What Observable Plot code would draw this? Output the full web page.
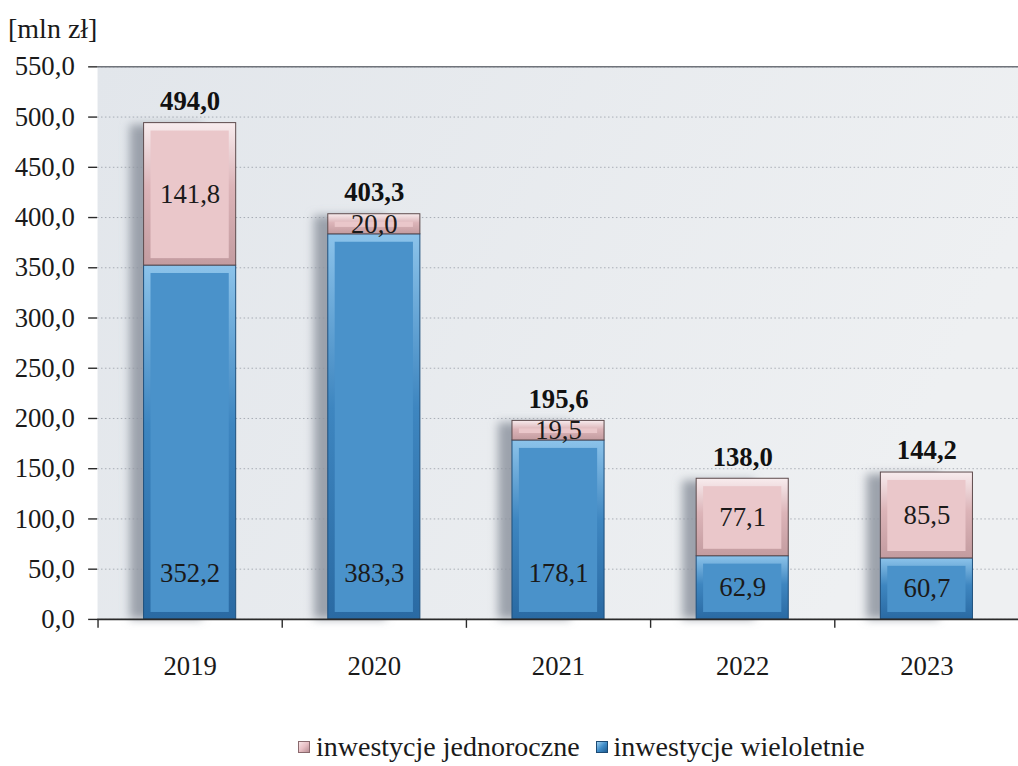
<!DOCTYPE html>
<html><head><meta charset="utf-8">
<script src="https://cdn.jsdelivr.net/npm/d3@7"></script>
<script src="https://cdn.jsdelivr.net/npm/@observablehq/plot@0.6"></script>
<style>
html,body{margin:0;padding:0;background:#fff;overflow:hidden;width:1018px;height:766px}
#wrap{position:relative;width:1018px;height:766px;font-family:"Liberation Serif","Times New Roman",Times,serif;color:#1a1a1a;overflow:hidden}
#unit{position:absolute;left:8px;top:13px;font-size:28px;line-height:32px}
#chart{position:absolute;left:0;top:0}
#legend{position:absolute;left:298px;top:731px;font-size:28px;line-height:32px;display:flex;align-items:center;white-space:nowrap}
.item{display:flex;align-items:center;margin-right:16px}
.sw{display:inline-block;width:12px;height:12px;margin-right:6px;box-sizing:border-box}
.sw.p{background:linear-gradient(135deg,#f7e4e6 0%,#e8bfc4 50%,#b98f95 100%);border:1px solid #8a6a6e}
.sw.b{background:linear-gradient(135deg,#9fd0f0 0%,#3f8cc8 50%,#1f5d92 100%);border:1px solid #1c4a74}
</style></head>
<body>
<div id="wrap">
  <div id="chart"></div>
  <div id="unit">[mln zł]</div>
  <div id="legend">
    <span class="item"><span class="sw p"></span>inwestycje jednoroczne</span>
    <span class="item"><span class="sw b"></span>inwestycje wieloletnie</span>
  </div>
</div>
<script>
// ---- data ----
const years = ["2019", "2020", "2021", "2022", "2023"];
const wieloletnie = [352.2, 383.3, 178.1, 62.9, 60.7];
const jednoroczne = [141.8, 20.0, 19.5, 77.1, 85.5];
const totals = [494.0, 403.3, 195.6, 138.0, 144.2];
const yTicks = [0, 50, 100, 150, 200, 250, 300, 350, 400, 450, 500, 550];

const fmt = d => d.toFixed(1).replace(".", ",");

const segs = [];
years.forEach((y, i) => {
  segs.push({year: y, series: "wieloletnie", y1: 0, y2: wieloletnie[i], v: wieloletnie[i]});
  segs.push({year: y, series: "jednoroczne", y1: wieloletnie[i], y2: wieloletnie[i] + jednoroczne[i], v: jednoroczne[i]});
});
const blue = segs.filter(d => d.series === "wieloletnie");
const pink = segs.filter(d => d.series === "jednoroczne");
const totRows = years.map((y, i) => ({year: y, top: wieloletnie[i] + jednoroczne[i], label: totals[i]}));

const serif = "Liberation Serif, Times New Roman, Times, serif";
const SHADOW = "#8e95a0";

const plot = Plot.plot({
  width: 1028,
  height: 700,
  marginLeft: 98,
  marginRight: 0,
  marginTop: 67,
  marginBottom: 75,
  style: {fontFamily: serif, fontSize: "27px", color: "#1a1a1a", background: "transparent", overflow: "visible"},
  x: {domain: years, paddingInner: 0.5, paddingOuter: 0.25},
  y: {domain: [0, 550]},
  marks: [
    Plot.frame({fill: "url(#bgGrad)", stroke: null}),
    Plot.gridY(yTicks, {stroke: "#8d939c", strokeOpacity: 0.7, strokeDasharray: "1.5,2.5", strokeWidth: 1}),
    Plot.ruleY([550], {stroke: "#6f737a", strokeWidth: 1.5}),
    // shadows
    Plot.barY(totRows, {x: "year", y1: 0, y2: "top", fill: SHADOW, fillOpacity: 0.85, dx: -14, insetTop: 2, insetRight: 20}),
    // bevel outer
    Plot.barY(blue, {x: "year", y1: "y1", y2: "y2", fill: "url(#blueEdge)", stroke: "#1d4f7c", strokeWidth: 1}),
    Plot.barY(pink, {x: "year", y1: "y1", y2: "y2", fill: "url(#pinkEdge)", stroke: "#5d4a4c", strokeWidth: 1}),
    // bevel faces
    Plot.barY(blue, {x: "year", y1: "y1", y2: "y2", fill: "#4a92ca", insetTop: 8, insetBottom: 7, insetLeft: 7, insetRight: 7}),
    Plot.barY(pink, {x: "year", y1: "y1", y2: "y2", fill: "#eac7ca", insetTop: 8, insetBottom: 7, insetLeft: 7, insetRight: 7}),
    Plot.ruleY([0], {stroke: "#2a2a2a", strokeWidth: 1.6}),
    Plot.ruleX(years, {x: d => d, y1: 0, y2: 0, dx: -93, stroke: "#2a2a2a", strokeWidth: 1.4, insetBottom: -9}),
    Plot.axisY({ticks: yTicks, tickFormat: fmt, tickSize: 9, tickPadding: 14, fontSize: 27, line: true, stroke: "#2a2a2a", strokeWidth: 1.4, label: null}),
    Plot.axisX({tickSize: 0, tickPadding: 37, fontSize: 27, label: null}),
    // labels
    Plot.text(blue, {x: "year", y: d => Math.min(d.v / 2, 46), text: d => fmt(d.v), fontSize: 27, fill: "#1a1a1a"}),
    Plot.text(pink, {x: "year", y: d => (d.y1 + d.y2) / 2, text: d => fmt(d.v), fontSize: 27, fill: "#1a1a1a"}),
    Plot.text(totRows, {x: "year", y: "top", text: d => fmt(d.label), dy: -22, fontSize: 27, fontWeight: "bold", fill: "#111"})
  ]
});

// gradients / filters
const svg = d3.select(plot);
const defs = svg.insert("defs", ":first-child");
const bg = defs.append("linearGradient").attr("id", "bgGrad").attr("x1", 0).attr("y1", 0).attr("x2", 1).attr("y2", 0.3);
bg.append("stop").attr("offset", "0%").attr("stop-color", "#e2e6eb");
bg.append("stop").attr("offset", "100%").attr("stop-color", "#eef0f2");
const be = defs.append("linearGradient").attr("id", "blueEdge").attr("x1", 0).attr("y1", 0).attr("x2", 0).attr("y2", 1);
be.append("stop").attr("offset", "0%").attr("stop-color", "#8cc3ea");
be.append("stop").attr("offset", "45%").attr("stop-color", "#3e86c0");
be.append("stop").attr("offset", "100%").attr("stop-color", "#2a6aa3");
const pe = defs.append("linearGradient").attr("id", "pinkEdge").attr("x1", 0).attr("y1", 0).attr("x2", 0).attr("y2", 1);
pe.append("stop").attr("offset", "0%").attr("stop-color", "#f8ecee");
pe.append("stop").attr("offset", "45%").attr("stop-color", "#dcb4b8");
pe.append("stop").attr("offset", "100%").attr("stop-color", "#c39ca0");
const bl = defs.append("filter").attr("id", "blur").attr("x", "-50%").attr("y", "-10%").attr("width", "200%").attr("height", "120%");
bl.append("feGaussianBlur").attr("stdDeviation", 5);
svg.selectAll(`[fill="${SHADOW}"]`).attr("filter", "url(#blur)");

document.getElementById("chart").appendChild(plot);
</script>
</body></html>
